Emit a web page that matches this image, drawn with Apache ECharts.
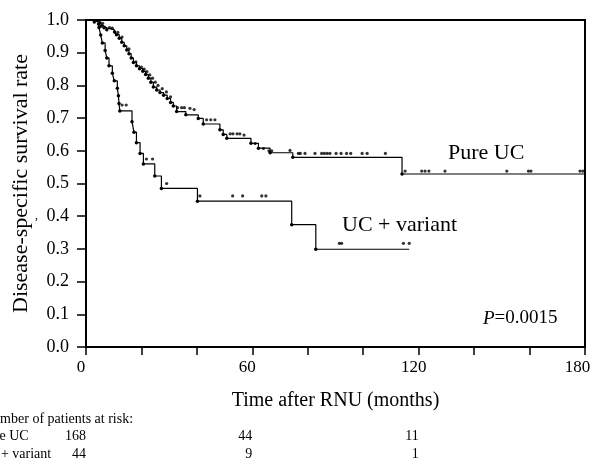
<!DOCTYPE html>
<html><head><meta charset="utf-8">
<script src="https://cdn.jsdelivr.net/npm/echarts@6/dist/echarts.min.js"></script>
<style>html,body{margin:0;padding:0;background:#fff}#c{width:591px;height:463px}</style>
</head><body><div id="c"></div>
<script>
// ---- data ----
const pureTimes = [0,3,4.5,5.5,6.5,7.5,10.3,11,12,12.9,13.8,14.7,15.5,16.3,17.1,18.2,19.3,20.5,21.5,22.5,23.4,24.3,25.5,26.7,28,29.3,30.5,31.5,32.7,36,40.5,42.3,48.3,49.5,50.8,59.5,62.2,66.4,74.6,114,180];
const pureSurv  = [1.0,0.994,0.988,0.982,0.976,0.970,0.963,0.955,0.944,0.932,0.921,0.908,0.897,0.884,0.870,0.860,0.851,0.843,0.833,0.822,0.810,0.795,0.786,0.778,0.770,0.760,0.748,0.737,0.720,0.710,0.699,0.682,0.664,0.650,0.638,0.623,0.608,0.594,0.580,0.529,0.529];
const pureCensorTimes = [4,5,6,8.5,9.5,11.5,13,15.5,18,20,21,22,23,24,25,26,27.5,29,30.5,33,34.5,35.5,37.5,39,43.5,45,46.5,52,53,54.5,55.5,57,61,64,66,67,73.6,76.6,77.3,79,82.6,85,86,87,88,90.2,92,94,95.5,99.6,101.4,108,115.1,121.1,122.3,123.7,129.5,151.8,159.6,160.5,178.2,179.2];
const pureCensorSurv  = [0.998,0.993,0.99,0.977,0.975,0.962,0.948,0.912,0.872,0.856,0.85,0.842,0.832,0.822,0.81,0.8,0.79,0.78,0.765,0.732,0.732,0.732,0.73,0.726,0.695,0.695,0.695,0.652,0.652,0.652,0.652,0.648,0.622,0.607,0.6,0.6,0.601,0.592,0.592,0.592,0.592,0.592,0.592,0.592,0.592,0.592,0.592,0.592,0.592,0.592,0.592,0.592,0.538,0.538,0.538,0.538,0.538,0.538,0.538,0.538,0.538,0.538];
const varTimes = [0,4.7,5.3,5.9,6.9,7.5,8.3,9.5,10.2,11.3,11.7,11.9,12.2,16.6,17.3,18.2,19.5,20.7,24.8,27.2,40.2,74.2,82.9,116.6];
const varSurv  = [1.0,0.977,0.954,0.930,0.907,0.884,0.860,0.837,0.814,0.791,0.768,0.745,0.722,0.689,0.657,0.625,0.592,0.560,0.523,0.485,0.446,0.374,0.299,0.299];
const varCensorTimes = [13,14.5,21.8,24,29.1,41.1,52.9,56.5,63.4,64.9,91.4,92.2,114.5,116.6];
const varCensorSurv  = [0.74,0.74,0.575,0.575,0.50,0.462,0.462,0.462,0.462,0.462,0.317,0.317,0.317,0.317];
const xLabelTicks = [0,60,120,180];
const riskTimes = [0,60,120];
const riskPure = [168,44,11];
const riskVar = [44,9,1];
const riskTitle = 'Number of patients at risk:';
const groupNames = ['Pure UC','UC + variant'];

const F = 'Liberation Serif';
const pair = (a,b)=>a.map((t,i)=>[t,b[i]]);
const chart = echarts.init(document.getElementById('c'), null, {renderer:'canvas'});
function stepSeries(times, surv){
  const d = pair(times, surv), last = d.length-1;
  return {type:'line', step:'end', data:d, showSymbol:true, symbol:'circle',
    symbolSize:(v,p)=> (p.dataIndex===0||p.dataIndex===last)?0:3.5,
    itemStyle:{color:'#000'}, lineStyle:{color:'#000', width:1.2}, animation:false, z:3};
}
chart.setOption({
  animation:false,
  backgroundColor:'#fff',
  grid:{left:86, right:6, top:20, bottom:116, show:true, borderColor:'#000', borderWidth:2, containLabel:false, outerBoundsMode:'none'},
  xAxis:{type:'value', min:0, max:180, interval:20,
    axisLine:{lineStyle:{color:'#000', width:2}},
    axisTick:{show:true, length:8, lineStyle:{color:'#000', width:1.5}},
    axisLabel:{formatter:v=> !xLabelTicks.includes(v) ? '' : (v===180 ? '{m|180}' : String(v)),
      rich:{m:{fontFamily:F, fontSize:17, color:'#000', padding:[0,5,0,0]}},
      color:'#000', fontFamily:F, fontSize:17, margin:12, padding:[0,10,0,0]},
    splitLine:{show:false},
    name:'Time after RNU (months)', nameLocation:'middle', nameGap:44,
    nameTextStyle:{color:'#000', fontFamily:F, fontSize:20}},
  yAxis:{type:'value', min:0, max:1, interval:0.1,
    axisLine:{show:true, lineStyle:{color:'#000', width:2}},
    axisTick:{show:true, length:9, lineStyle:{color:'#000', width:1.5}},
    axisLabel:{formatter:v=>v.toFixed(1), color:'#000', fontFamily:F, fontSize:18, margin:17},
    splitLine:{show:false},
    name:'Disease-specific survival rate', nameLocation:'middle', nameGap:54,
    nameTextStyle:{color:'#000', fontFamily:F, fontSize:22}},
  series:[
    stepSeries(pureTimes, pureSurv),
    stepSeries(varTimes, varSurv),
    {type:'scatter', data:pair(pureCensorTimes, pureCensorSurv), symbol:'circle', symbolSize:3.2, itemStyle:{color:'#000'}, z:4},
    {type:'scatter', data:pair(varCensorTimes, varCensorSurv), symbol:'circle', symbolSize:3.2, itemStyle:{color:'#000'}, z:4}
  ]
});
const gx = t => chart.convertToPixel({xAxisIndex:0}, t);
const g = [
  {type:'text', left:448, top:142, style:{text:groupNames[0], font:'22px "Liberation Serif"', fill:'#000'}},
  {type:'text', left:342, top:214, style:{text:groupNames[1], font:'22px "Liberation Serif"', fill:'#000'}},
  {type:'text', left:483, top:309, style:{text:'{i|P}=0.0015', rich:{i:{fontStyle:'italic', fontFamily:F, fontSize:19}}, fontFamily:F, fontSize:19, fill:'#000'}},
  {type:'text', left:35, top:210, style:{text:',', font:'12px "Liberation Serif"', fill:'#000'}},
  {type:'text', left:-17, top:412, style:{text:riskTitle, font:'14px "Liberation Serif"', fill:'#000'}},
  {type:'text', left:-20, top:429, style:{text:groupNames[0], font:'14px "Liberation Serif"', fill:'#000'}},
  {type:'text', left:-22, top:447, style:{text:groupNames[1], font:'14px "Liberation Serif"', fill:'#000'}}
];
riskTimes.forEach((t,i)=>{
  const x = gx(t);
  g.push({type:'text', x:x, y:429, style:{text:String(riskPure[i]), font:'14px "Liberation Serif"', fill:'#000', textAlign:'right'}});
  g.push({type:'text', x:x, y:447, style:{text:String(riskVar[i]), font:'14px "Liberation Serif"', fill:'#000', textAlign:'right'}});
});
chart.setOption({graphic:g});
</script></body></html>
